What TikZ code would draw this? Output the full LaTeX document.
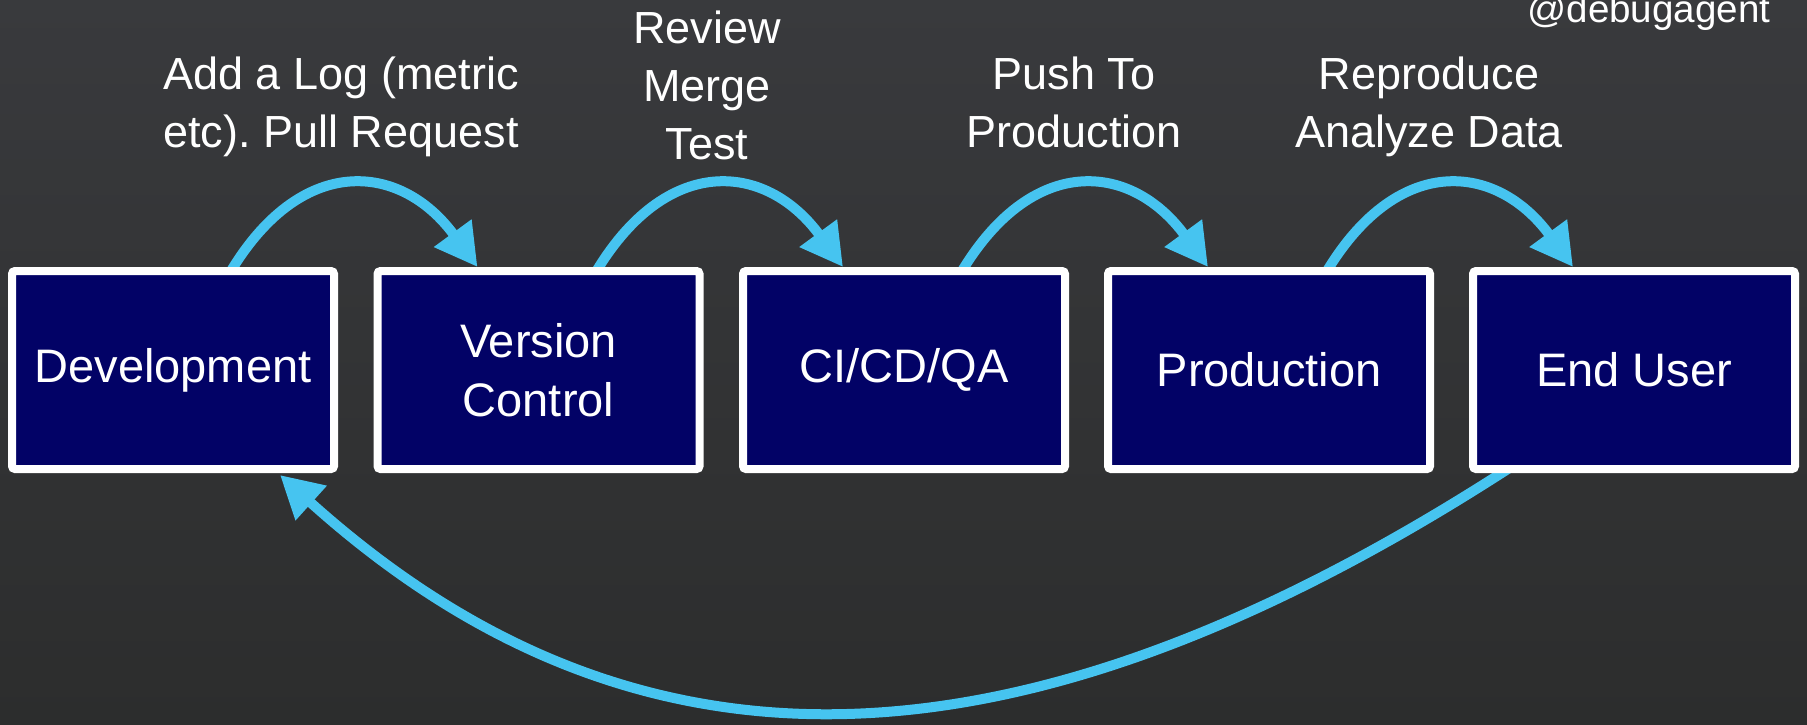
\documentclass[tikz,border=0pt]{standalone}
\usepackage{fontspec}
\setmainfont{Liberation Sans}
\usetikzlibrary{arrows.meta,calc}
\definecolor{bgtop}{HTML}{393A3D}
\definecolor{bgbot}{HTML}{2C2D2D}
\definecolor{navy}{HTML}{020266}
\definecolor{sky}{HTML}{46C4F0}
\pgfdeclarelayer{bg}
\pgfdeclarelayer{arrowlayer}
\pgfsetlayers{bg,arrowlayer,main}
\frenchspacing
\begin{document}
\begin{tikzpicture}[x=0.5pt,y=-0.5pt,
  stage/.style={draw=white, line width=4pt, fill=navy, rounded corners=1.5pt,
    minimum width=161pt, minimum height=99pt, inner sep=0pt, text=white,
    align=center, font=\fontsize{23.5pt}{29.5pt}\selectfont},
  lbl/.style={text=white, align=center, inner sep=0pt, anchor=north,
    font=\fontsize{22.5pt}{29pt}\selectfont},
  flow/.style={draw=sky, line width=5pt, -{Triangle[length=21pt,width=22pt]}}]
\begin{pgfonlayer}{bg}
  \shade[top color=bgtop, bottom color=bgbot] (0,0) rectangle (1807,724);
\end{pgfonlayer}
\useasboundingbox (0,0) rectangle (1807,724);

\node[stage] (dev)  at (173,370)   {Development};
\node[stage] (vc)   at (538.5,370) {Version\\Control};
\node[stage] (ci)   at (904,370)   {CI/CD/QA};
\node[stage] (prod) at (1269,370)  {Production};
\node[stage] (eu)   at (1634,370)  {End User};

\node[lbl] (l1) at (341,56)  {Add a Log (metric\\etc). Pull Request};
\node[lbl] (l2) at (707,10)  {Review\\Merge\\Test};
\node[lbl] (l3) at (1074,56) {Push To\\Production};
\node[lbl] (l4) at (1429,56) {Reproduce\\Analyze Data};
\node[text=white, anchor=base west, inner sep=0pt,
  font=\fontsize{19.3pt}{23pt}\selectfont] (tag) at (1527,22) {@debugagent};

\begin{pgfonlayer}{arrowlayer}
  \foreach \a/\b in {dev/vc, vc/ci, ci/prod, prod/eu}{
    \draw[flow] ($(\a.north)+(55,9)$) .. controls +(72,-124) and +(-77,-105) .. ($(\b.north)+(-61,0)$);
  }
  \draw[flow] ($(eu.south)+(-120,-8)$) .. controls +(-502,326) and +(351,316) .. ($(dev.south)+(107,2)$);
\end{pgfonlayer}
\end{tikzpicture}
\end{document}
